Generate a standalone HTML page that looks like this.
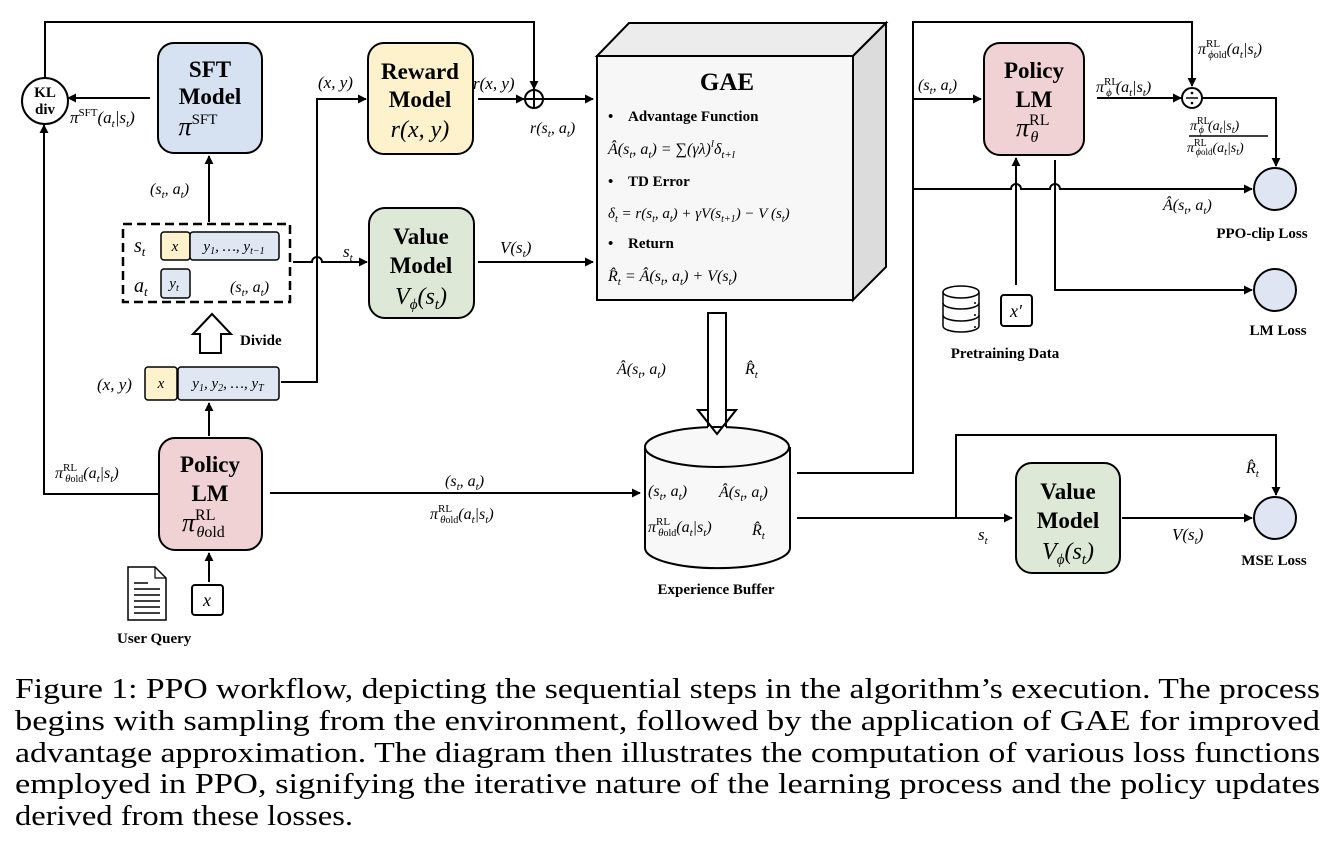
<!DOCTYPE html>
<html><head><meta charset="utf-8"><style>
html,body{margin:0;padding:0;background:#fff;}
svg{display:block;}
.b{font-family:"Liberation Serif",serif;font-weight:bold;}
.m{font-family:"Liberation Serif",serif;font-style:italic;}
.c{font-family:"Liberation Serif",serif;font-size:29px;}
</style></head><body>
<svg width="1344" height="854" viewBox="0 0 1344 854" xmlns="http://www.w3.org/2000/svg">
<defs>
<marker id="a" viewBox="0 0 10 10" refX="9" refY="5" markerWidth="9" markerHeight="9" markerUnits="userSpaceOnUse" orient="auto"><path d="M0,0 L10,5 L0,10 z" fill="#000"/></marker>
</defs>
<g fill="none" stroke="#000" stroke-width="2">
<path d="M45,79 V22 H534 V89" marker-end="url(#a)"/>
<path d="M150,98 H68" marker-end="url(#a)"/>
<path d="M158,494 H44 V125" marker-end="url(#a)"/>
<path d="M209,222 V156" marker-end="url(#a)"/>
<path d="M209,436 V403" marker-end="url(#a)"/>
<path d="M281,382 H317 V99 H366" marker-end="url(#a)"/>
<path d="M293,262 H312 A5,5 0 0 1 322,262 H367" marker-end="url(#a)"/>
<path d="M478,99 H524" marker-end="url(#a)"/>
<path d="M543,99 H593" marker-end="url(#a)"/>
<path d="M478,262 H593" marker-end="url(#a)"/>
<path d="M270,493 H640" marker-end="url(#a)"/>
<path d="M209,582 V553" marker-end="url(#a)"/>
<path d="M797,473 H913 V22 H1192 V86" marker-end="url(#a)"/>
<path d="M913,99 H981" marker-end="url(#a)"/>
<path d="M913,189 H1011 A5,5 0 0 1 1021,189 H1050 A5,5 0 0 1 1060,189 H1252" marker-end="url(#a)"/>
<path d="M1097,98 H1181" marker-end="url(#a)"/>
<path d="M1203,98 H1276 V166" marker-end="url(#a)"/>
<path d="M1016,285 V158" marker-end="url(#a)"/>
<path d="M1055,160 V290 H1252" marker-end="url(#a)"/>
<path d="M797,518 H1012" marker-end="url(#a)"/>
<path d="M956,518 V435 H1276 V495" marker-end="url(#a)"/>
<path d="M1122,518 H1252" marker-end="url(#a)"/>
</g>
<circle cx="45" cy="101" r="23" fill="#fff" stroke="#000" stroke-width="2"/>
<text x="45" y="97" class="b" font-size="15" text-anchor="middle">KL</text>
<text x="45" y="114" class="b" font-size="15" text-anchor="middle">div</text>
<circle cx="534" cy="99" r="9" fill="#fff" stroke="#000" stroke-width="2"/>
<path d="M525,99 H543 M534,90 V108" stroke="#000" stroke-width="2"/>
<rect x="158" y="43" width="104" height="110" rx="16" fill="#d6e2f2" stroke="#000" stroke-width="2"/>
<text x="210" y="77" class="b" font-size="23" text-anchor="middle">SFT</text>
<text x="210" y="104" class="b" font-size="23" text-anchor="middle">Model</text>
<text x="198" y="135" class="m" font-size="26" text-anchor="middle">π<tspan font-style="normal" font-size="15" dy="-11">SFT</tspan></text>
<text x="70" y="123" class="m" font-size="17">π<tspan font-style="normal" font-size="11" dy="-7">SFT</tspan><tspan dy="7">(a</tspan><tspan font-size="11" dy="4">t</tspan><tspan dy="-4">|s</tspan><tspan font-size="11" dy="4">t</tspan><tspan dy="-4">)</tspan></text>
<rect x="368" y="43" width="105" height="111" rx="16" fill="#fdf2cc" stroke="#000" stroke-width="2"/>
<text x="420" y="79" class="b" font-size="23" text-anchor="middle">Reward</text>
<text x="420" y="107" class="b" font-size="23" text-anchor="middle">Model</text>
<text x="420" y="137" class="m" font-size="24" text-anchor="middle">r(x, y)</text>
<text x="318" y="88" class="m" font-size="17">(x, y)</text>
<text x="473" y="89" class="m" font-size="17">r(x, y)</text>
<text x="530" y="133" class="m" font-size="16">r(s<tspan font-size="11" dy="4">t</tspan><tspan dy="-4">, a</tspan><tspan font-size="11" dy="4">t</tspan><tspan dy="-4">)</tspan></text>
<rect x="369" y="208" width="105" height="110" rx="16" fill="#dde9d6" stroke="#000" stroke-width="2"/>
<text x="421" y="244" class="b" font-size="23" text-anchor="middle">Value</text>
<text x="421" y="273" class="b" font-size="23" text-anchor="middle">Model</text>
<text x="421" y="304" class="m" font-size="24" text-anchor="middle">V<tspan font-size="15" dy="5">ϕ</tspan><tspan dy="-5">(s</tspan><tspan font-size="15" dy="5">t</tspan><tspan dy="-5">)</tspan></text>
<text x="343" y="257" class="m" font-size="17">s<tspan font-size="11" dy="4">t</tspan></text>
<text x="500" y="253" class="m" font-size="17">V(s<tspan font-size="11" dy="4">t</tspan><tspan dy="-4">)</tspan></text>
<rect x="123" y="224" width="167" height="78" fill="none" stroke="#000" stroke-width="2.5" stroke-dasharray="9,5"/>
<text x="134" y="252" class="m" font-size="20">s<tspan font-size="13" dy="4">t</tspan></text>
<rect x="161" y="232" width="29" height="28" rx="3" fill="#fdf2cc" stroke="#000" stroke-width="1.5"/>
<text x="175" y="251" class="m" font-size="15" text-anchor="middle">x</text>
<rect x="190" y="232" width="89" height="28" rx="3" fill="#dfe7f3" stroke="#000" stroke-width="1.5"/>
<text x="234" y="251" class="m" font-size="15" text-anchor="middle">y<tspan font-size="10" dy="3">1</tspan><tspan dy="-3">, …, y</tspan><tspan font-size="10" dy="3">t−1</tspan></text>
<text x="134" y="292" class="m" font-size="20">a<tspan font-size="13" dy="4">t</tspan></text>
<rect x="161" y="269" width="29" height="29" rx="3" fill="#dfe7f3" stroke="#000" stroke-width="1.5"/>
<text x="174" y="288" class="m" font-size="15" text-anchor="middle">y<tspan font-size="10" dy="3">t</tspan></text>
<text x="230" y="292" class="m" font-size="16">(s<tspan font-size="11" dy="4">t</tspan><tspan dy="-4">, a</tspan><tspan font-size="11" dy="4">t</tspan><tspan dy="-4">)</tspan></text>
<text x="150" y="194" class="m" font-size="16">(s<tspan font-size="11" dy="4">t</tspan><tspan dy="-4">, a</tspan><tspan font-size="11" dy="4">t</tspan><tspan dy="-4">)</tspan></text>
<path d="M212,314 L231,334 L221,334 L221,353 L200,353 L200,334 L193,334 Z" fill="#fff" stroke="#000" stroke-width="2"/>
<text x="240" y="345" class="b" font-size="15">Divide</text>
<rect x="145" y="367" width="32" height="33" rx="3" fill="#fdf2cc" stroke="#000" stroke-width="1.5"/>
<text x="161" y="388" class="m" font-size="15" text-anchor="middle">x</text>
<rect x="178" y="367" width="101" height="33" rx="3" fill="#dfe7f3" stroke="#000" stroke-width="1.5"/>
<text x="228" y="388" class="m" font-size="15" text-anchor="middle">y<tspan font-size="10" dy="3">1</tspan><tspan dy="-3">, y</tspan><tspan font-size="10" dy="3">2</tspan><tspan dy="-3">, …, y</tspan><tspan font-size="10" dy="3">T</tspan></text>
<text x="97" y="390" class="m" font-size="17">(x, y)</text>
<rect x="159" y="438" width="103" height="112" rx="16" fill="#f0d2d5" stroke="#000" stroke-width="2"/>
<text x="210" y="472" class="b" font-size="23" text-anchor="middle">Policy</text>
<text x="210" y="501" class="b" font-size="23" text-anchor="middle">LM</text>
<text x="182" y="531" class="m" font-size="26">π<tspan font-style="normal" font-size="16" dy="-11">RL</tspan><tspan font-size="16" dx="-19" dy="17">θ</tspan><tspan font-style="normal" font-size="16">old</tspan></text>
<text x="55" y="478" class="m" font-size="16">π<tspan font-style="normal" font-size="11" dy="-7">RL</tspan><tspan font-size="11" dx="-12" dy="11">θ</tspan><tspan font-style="normal" font-size="10">old</tspan><tspan dy="-4">(a</tspan><tspan font-size="11" dy="4">t</tspan><tspan dy="-4">|s</tspan><tspan font-size="11" dy="4">t</tspan><tspan dy="-4">)</tspan></text>
<text x="445" y="486" class="m" font-size="16">(s<tspan font-size="11" dy="4">t</tspan><tspan dy="-4">, a</tspan><tspan font-size="11" dy="4">t</tspan><tspan dy="-4">)</tspan></text>
<text x="430" y="519" class="m" font-size="16">π<tspan font-style="normal" font-size="11" dy="-7">RL</tspan><tspan font-size="11" dx="-12" dy="11">θ</tspan><tspan font-style="normal" font-size="10">old</tspan><tspan dy="-4">(a</tspan><tspan font-size="11" dy="4">t</tspan><tspan dy="-4">|s</tspan><tspan font-size="11" dy="4">t</tspan><tspan dy="-4">)</tspan></text>
<path d="M128,567 H155 L166,578 V620 H128 Z" fill="#fff" stroke="#000" stroke-width="1.5"/>
<path d="M155,567 V578 H166" fill="none" stroke="#000" stroke-width="1.2"/>
<path d="M134,583 H148 M134,589 H160 M134,595 H160 M134,601 H160 M134,607 H160 M134,613 H160" stroke="#000" stroke-width="1.5"/>
<rect x="192" y="585" width="31" height="30" rx="3" fill="#fff" stroke="#000" stroke-width="2"/>
<text x="207" y="606" class="m" font-size="18" text-anchor="middle">x</text>
<text x="117" y="643" class="b" font-size="15">User Query</text>
<path d="M597,56 L629,23 L886,23 L853,56 Z" fill="#ececec" stroke="#000" stroke-width="2"/>
<path d="M853,56 L886,23 L886,267 L853,300 Z" fill="#dcdcdc" stroke="#000" stroke-width="2"/>
<rect x="597" y="56" width="256" height="244" fill="#f7f7f7" stroke="#000" stroke-width="2"/>
<text x="727" y="90" class="b" font-size="25" text-anchor="middle">GAE</text>
<text x="608" y="121" class="b" font-size="15">•</text><text x="628" y="121" class="b" font-size="15">Advantage Function</text>
<text x="608" y="154" class="m" font-size="16">Â(s<tspan font-size="11" dy="4">t</tspan><tspan dy="-4">, a</tspan><tspan font-size="11" dy="4">t</tspan><tspan dy="-4">) = ∑(γλ)</tspan><tspan font-size="11" dy="-7">l</tspan><tspan dy="7">δ</tspan><tspan font-size="11" dy="4">t+l</tspan></text>
<text x="608" y="186" class="b" font-size="15">•</text><text x="628" y="186" class="b" font-size="15">TD Error</text>
<text x="608" y="218" class="m" font-size="15">δ<tspan font-size="10" dy="4">t</tspan><tspan dy="-4"> = r(s</tspan><tspan font-size="10" dy="4">t</tspan><tspan dy="-4">, a</tspan><tspan font-size="10" dy="4">t</tspan><tspan dy="-4">) + γV(s</tspan><tspan font-size="10" dy="4">t+1</tspan><tspan dy="-4">) − V (s</tspan><tspan font-size="10" dy="4">t</tspan><tspan dy="-4">)</tspan></text>
<text x="608" y="248" class="b" font-size="15">•</text><text x="628" y="248" class="b" font-size="15">Return</text>
<text x="608" y="281" class="m" font-size="16">R̂<tspan font-size="11" dy="4">t</tspan><tspan dy="-4"> = Â(s</tspan><tspan font-size="11" dy="4">t</tspan><tspan dy="-4">, a</tspan><tspan font-size="11" dy="4">t</tspan><tspan dy="-4">) + V(s</tspan><tspan font-size="11" dy="4">t</tspan><tspan dy="-4">)</tspan></text>
<path d="M708,313 H726 V410 H736 L717,434 L698,410 H708 Z" fill="#fff" stroke="#000" stroke-width="2"/>
<text x="617" y="374" class="m" font-size="16">Â(s<tspan font-size="11" dy="4">t</tspan><tspan dy="-4">, a</tspan><tspan font-size="11" dy="4">t</tspan><tspan dy="-4">)</tspan></text>
<text x="745" y="374" class="m" font-size="16">R̂<tspan font-size="11" dy="4">t</tspan></text>
<path d="M645,447 V548 A72,20 0 0 0 790,548 V447" fill="#f8f8f8" stroke="#000" stroke-width="2"/>
<ellipse cx="717" cy="447" rx="72" ry="20" fill="#f8f8f8" stroke="#000" stroke-width="2"/>
<path d="M708,430 H726 V410 H736 L717,434 L698,410 H708 Z" fill="#fff" stroke="none"/>
<path d="M708,427 V410 H698 L717,434 L736,410 H726 V427" fill="none" stroke="#000" stroke-width="2"/>
<text x="648" y="496" class="m" font-size="16">(s<tspan font-size="11" dy="4">t</tspan><tspan dy="-4">, a</tspan><tspan font-size="11" dy="4">t</tspan><tspan dy="-4">)</tspan></text>
<text x="719" y="497" class="m" font-size="16">Â(s<tspan font-size="11" dy="4">t</tspan><tspan dy="-4">, a</tspan><tspan font-size="11" dy="4">t</tspan><tspan dy="-4">)</tspan></text>
<text x="648" y="532" class="m" font-size="16">π<tspan font-style="normal" font-size="11" dy="-7">RL</tspan><tspan font-size="11" dx="-12" dy="11">θ</tspan><tspan font-style="normal" font-size="10">old</tspan><tspan dy="-4">(a</tspan><tspan font-size="11" dy="4">t</tspan><tspan dy="-4">|s</tspan><tspan font-size="11" dy="4">t</tspan><tspan dy="-4">)</tspan></text>
<text x="752" y="535" class="m" font-size="16">R̂<tspan font-size="11" dy="4">t</tspan></text>
<text x="716" y="594" class="b" font-size="15" text-anchor="middle">Experience Buffer</text>
<rect x="984" y="43" width="100" height="112" rx="16" fill="#f0d2d5" stroke="#000" stroke-width="2"/>
<text x="1034" y="78" class="b" font-size="23" text-anchor="middle">Policy</text>
<text x="1034" y="107" class="b" font-size="23" text-anchor="middle">LM</text>
<text x="1016" y="136" class="m" font-size="26">π<tspan font-style="normal" font-size="16" dy="-11">RL</tspan><tspan font-size="16" dx="-19" dy="17">θ</tspan></text>
<text x="918" y="90" class="m" font-size="16">(s<tspan font-size="11" dy="4">t</tspan><tspan dy="-4">, a</tspan><tspan font-size="11" dy="4">t</tspan><tspan dy="-4">)</tspan></text>
<text x="1096" y="92" class="m" font-size="16">π<tspan font-style="normal" font-size="11" dy="-7">RL</tspan><tspan font-size="11" dx="-12" dy="11">ϕ</tspan><tspan dx="4" dy="-4">(a</tspan><tspan font-size="11" dy="4">t</tspan><tspan dy="-4">|s</tspan><tspan font-size="11" dy="4">t</tspan><tspan dy="-4">)</tspan></text>
<circle cx="1192" cy="98" r="10" fill="#fff" stroke="#000" stroke-width="2"/>
<path d="M1186,98 H1198" stroke="#000" stroke-width="1.5"/>
<circle cx="1192" cy="93" r="1.3"/><circle cx="1192" cy="103" r="1.3"/>
<text x="1198" y="54" class="m" font-size="16">π<tspan font-style="normal" font-size="11" dy="-7">RL</tspan><tspan font-size="11" dx="-12" dy="11">ϕ</tspan><tspan font-style="normal" font-size="10">old</tspan><tspan dy="-4">(a</tspan><tspan font-size="11" dy="4">t</tspan><tspan dy="-4">|s</tspan><tspan font-size="11" dy="4">t</tspan><tspan dy="-4">)</tspan></text>
<text x="1190" y="130" class="m" font-size="14">π<tspan font-style="normal" font-size="10" dy="-6">RL</tspan><tspan font-size="10" dx="-11" dy="9">ϕ</tspan><tspan dx="4" dy="-3">(a</tspan><tspan font-size="10" dy="3">t</tspan><tspan dy="-3">|s</tspan><tspan font-size="10" dy="3">t</tspan><tspan dy="-3">)</tspan></text>
<path d="M1189,136 H1268" stroke="#000" stroke-width="1.5"/>
<text x="1187" y="152" class="m" font-size="14">π<tspan font-style="normal" font-size="10" dy="-6">RL</tspan><tspan font-size="10" dx="-11" dy="9">ϕ</tspan><tspan font-style="normal" font-size="9">old</tspan><tspan dy="-3">(a</tspan><tspan font-size="10" dy="3">t</tspan><tspan dy="-3">|s</tspan><tspan font-size="10" dy="3">t</tspan><tspan dy="-3">)</tspan></text>
<circle cx="1275" cy="189" r="21" fill="#dfe5f3" stroke="#000" stroke-width="2"/>
<text x="1163" y="210" class="m" font-size="16">Â(s<tspan font-size="11" dy="4">t</tspan><tspan dy="-4">, a</tspan><tspan font-size="11" dy="4">t</tspan><tspan dy="-4">)</tspan></text>
<text x="1262" y="238" class="b" font-size="15" text-anchor="middle">PPO-clip Loss</text>
<circle cx="1275" cy="290" r="21" fill="#dfe5f3" stroke="#000" stroke-width="2"/>
<text x="1278" y="335" class="b" font-size="15" text-anchor="middle">LM Loss</text>
<g fill="#fff" stroke="#000" stroke-width="1.5">
<path d="M943,292 V326 A18,6 0 0 0 979,326 V292"/>
<ellipse cx="961" cy="292" rx="18" ry="6"/>
<path d="M943,303 A18,6 0 0 0 979,303 M943,315 A18,6 0 0 0 979,315" fill="none"/>
</g>
<circle cx="975" cy="303" r="1"/><circle cx="975" cy="315" r="1"/><circle cx="975" cy="327" r="1"/>
<rect x="1001" y="295" width="31" height="31" rx="3" fill="#fff" stroke="#000" stroke-width="2"/>
<text x="1016" y="317" class="m" font-size="18" text-anchor="middle">x′</text>
<text x="1005" y="358" class="b" font-size="15" text-anchor="middle">Pretraining Data</text>
<rect x="1016" y="463" width="104" height="110" rx="16" fill="#dde9d6" stroke="#000" stroke-width="2"/>
<text x="1068" y="499" class="b" font-size="23" text-anchor="middle">Value</text>
<text x="1068" y="528" class="b" font-size="23" text-anchor="middle">Model</text>
<text x="1068" y="559" class="m" font-size="24" text-anchor="middle">V<tspan font-size="15" dy="5">ϕ</tspan><tspan dy="-5">(s</tspan><tspan font-size="15" dy="5">t</tspan><tspan dy="-5">)</tspan></text>
<text x="978" y="540" class="m" font-size="17">s<tspan font-size="11" dy="4">t</tspan></text>
<text x="1172" y="540" class="m" font-size="17">V(s<tspan font-size="11" dy="4">t</tspan><tspan dy="-4">)</tspan></text>
<text x="1246" y="473" class="m" font-size="16">R̂<tspan font-size="11" dy="4">t</tspan></text>
<circle cx="1275" cy="518" r="21" fill="#dfe5f3" stroke="#000" stroke-width="2"/>
<text x="1274" y="565" class="b" font-size="15" text-anchor="middle">MSE Loss</text>
<text x="15" y="698" class="c" textLength="1305" lengthAdjust="spacingAndGlyphs">Figure 1: PPO workflow, depicting the sequential steps in the algorithm’s execution. The process</text>
<text x="15" y="730" class="c" textLength="1305" lengthAdjust="spacingAndGlyphs">begins with sampling from the environment, followed by the application of GAE for improved</text>
<text x="15" y="762" class="c" textLength="1305" lengthAdjust="spacingAndGlyphs">advantage approximation. The diagram then illustrates the computation of various loss functions</text>
<text x="15" y="793" class="c" textLength="1305" lengthAdjust="spacingAndGlyphs">employed in PPO, signifying the iterative nature of the learning process and the policy updates</text>
<text x="15" y="825" class="c" textLength="338" lengthAdjust="spacingAndGlyphs">derived from these losses.</text>
</svg>
</body></html>
